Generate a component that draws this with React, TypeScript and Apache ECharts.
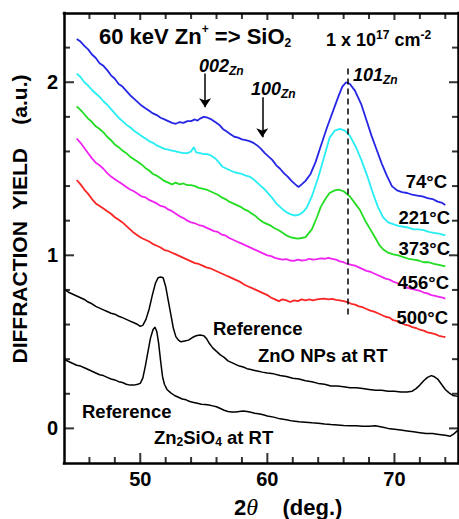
import React, { useEffect, useRef } from "react";
import * as echarts from "echarts";

const FONT = "'Liberation Sans', Arial, Helvetica, sans-serif";

const xMin = 44;
const xMax = 75;
const yMin = -0.2;
const yMax = 2.4;
const xMajorTicks = [50, 60, 70];
const xMinorTicks = [46, 48, 52, 54, 56, 58, 62, 64, 66, 68, 72, 74];
const yMajorTicks = [0, 1, 2];
const yMinorTicks = [0.2, 0.4, 0.6, 0.8, 1.2, 1.4, 1.6, 1.8, 2.2];

const temp74C: [number, number][] = [[45.0,2.25],[45.3,2.235],[45.6,2.21],[45.9,2.19],[46.2,2.16],[46.5,2.14],[46.8,2.11],[47.1,2.095],[47.4,2.07],[47.7,2.04],[48.0,2.02],[48.3,1.99],[48.6,1.975],[48.9,1.95],[49.2,1.925],[49.5,1.905],[49.8,1.885],[50.1,1.865],[50.4,1.85],[50.7,1.835],[51.0,1.82],[51.3,1.81],[51.6,1.795],[51.9,1.785],[52.2,1.775],[52.5,1.765],[52.8,1.76],[53.1,1.77],[53.4,1.765],[53.7,1.775],[54.0,1.775],[54.3,1.785],[54.5,1.778],[54.7,1.79],[55.0,1.8],[55.3,1.795],[55.6,1.785],[55.9,1.77],[56.2,1.755],[56.5,1.73],[56.8,1.715],[57.1,1.7],[57.4,1.685],[57.7,1.68],[58.0,1.67],[58.3,1.665],[58.6,1.66],[58.9,1.65],[59.2,1.635],[59.5,1.615],[59.8,1.59],[60.1,1.57],[60.4,1.55],[60.7,1.52],[61.0,1.5],[61.3,1.475],[61.6,1.455],[61.9,1.43],[62.2,1.41],[62.45,1.395],[62.7,1.41],[63.0,1.43],[63.4,1.47],[63.8,1.54],[64.2,1.63],[64.7,1.74],[65.2,1.84],[65.6,1.92],[65.9,1.975],[66.2,2.0],[66.5,1.99],[66.9,1.95],[67.4,1.87],[67.8,1.78],[68.2,1.69],[68.6,1.61],[69.0,1.53],[69.4,1.46],[69.8,1.4],[70.2,1.375],[70.6,1.365],[71.0,1.36],[71.4,1.35],[71.8,1.345],[72.2,1.34],[72.6,1.33],[73.0,1.325],[73.4,1.31],[73.7,1.305],[74.0,1.29]];

const temp221C: [number, number][] = [[45.0,2.05],[45.3,2.03],[45.6,2.0],[45.9,1.98],[46.2,1.955],[46.5,1.935],[46.8,1.915],[47.1,1.89],[47.4,1.87],[47.7,1.845],[48.0,1.82],[48.3,1.795],[48.6,1.775],[48.9,1.755],[49.2,1.74],[49.5,1.72],[49.8,1.705],[50.1,1.69],[50.4,1.675],[50.7,1.66],[51.0,1.65],[51.3,1.635],[51.6,1.625],[51.9,1.615],[52.2,1.61],[52.5,1.605],[52.8,1.6],[53.1,1.595],[53.4,1.59],[53.7,1.59],[54.0,1.6],[54.2,1.625],[54.4,1.595],[54.7,1.59],[55.0,1.585],[55.3,1.585],[55.6,1.575],[55.9,1.56],[56.2,1.535],[56.5,1.51],[56.8,1.5],[57.1,1.49],[57.4,1.48],[57.7,1.475],[58.0,1.47],[58.3,1.46],[58.6,1.455],[58.9,1.44],[59.2,1.42],[59.5,1.4],[59.8,1.38],[60.1,1.355],[60.4,1.33],[60.7,1.3],[61.0,1.28],[61.3,1.26],[61.6,1.245],[61.9,1.235],[62.2,1.23],[62.5,1.235],[62.8,1.25],[63.1,1.275],[63.5,1.34],[64.0,1.45],[64.4,1.55],[64.9,1.68],[65.3,1.72],[65.7,1.73],[66.1,1.72],[66.5,1.69],[67.0,1.62],[67.4,1.55],[67.9,1.45],[68.3,1.36],[68.7,1.28],[69.1,1.22],[69.5,1.19],[69.9,1.18],[70.3,1.17],[70.7,1.165],[71.1,1.16],[71.5,1.15],[71.9,1.15],[72.3,1.145],[72.7,1.135],[73.1,1.13],[73.5,1.125],[74.0,1.115]];

const temp373C: [number, number][] = [[45.0,1.86],[45.3,1.84],[45.6,1.815],[45.9,1.79],[46.2,1.77],[46.5,1.745],[46.8,1.73],[47.1,1.71],[47.4,1.685],[47.7,1.665],[48.0,1.64],[48.3,1.625],[48.6,1.605],[48.9,1.59],[49.2,1.57],[49.5,1.555],[49.8,1.54],[50.1,1.525],[50.4,1.505],[50.7,1.49],[51.0,1.47],[51.3,1.46],[51.6,1.445],[51.9,1.43],[52.2,1.42],[52.5,1.41],[52.8,1.42],[53.1,1.41],[53.4,1.415],[53.7,1.405],[54.0,1.405],[54.3,1.4],[54.6,1.39],[54.9,1.385],[55.2,1.38],[55.5,1.37],[55.8,1.36],[56.1,1.35],[56.4,1.335],[56.7,1.325],[57.0,1.31],[57.3,1.3],[57.6,1.29],[57.9,1.28],[58.2,1.265],[58.5,1.255],[58.8,1.24],[59.1,1.225],[59.4,1.205],[59.7,1.19],[60.0,1.18],[60.3,1.17],[60.6,1.155],[60.9,1.145],[61.2,1.13],[61.5,1.115],[61.8,1.105],[62.1,1.1],[62.4,1.097],[62.7,1.1],[63.0,1.105],[63.5,1.15],[63.9,1.22],[64.2,1.28],[64.6,1.33],[64.9,1.36],[65.3,1.375],[65.6,1.38],[66.0,1.37],[66.5,1.34],[67.0,1.29],[67.3,1.26],[67.7,1.2],[68.1,1.15],[68.5,1.1],[68.8,1.06],[69.1,1.035],[69.5,1.015],[69.9,1.005],[70.3,1.0],[70.7,0.99],[71.1,0.98],[71.5,0.975],[71.9,0.97],[72.3,0.96],[72.7,0.96],[73.1,0.95],[73.5,0.945],[74.0,0.936]];

const temp456C: [number, number][] = [[45.0,1.675],[45.3,1.65],[45.6,1.62],[45.9,1.59],[46.2,1.56],[46.5,1.535],[46.8,1.52],[47.1,1.5],[47.4,1.475],[47.7,1.455],[48.0,1.44],[48.3,1.425],[48.6,1.41],[48.9,1.395],[49.2,1.38],[49.5,1.37],[49.8,1.355],[50.1,1.34],[50.4,1.335],[50.7,1.32],[51.0,1.31],[51.3,1.3],[51.6,1.285],[51.9,1.28],[52.2,1.265],[52.5,1.255],[52.8,1.24],[53.1,1.225],[53.4,1.215],[53.7,1.2],[54.0,1.19],[54.3,1.185],[54.6,1.175],[54.9,1.17],[55.2,1.16],[55.5,1.15],[55.8,1.14],[56.1,1.135],[56.4,1.12],[56.7,1.115],[57.0,1.1],[57.3,1.09],[57.6,1.08],[57.9,1.07],[58.2,1.06],[58.5,1.05],[58.8,1.04],[59.1,1.03],[59.4,1.02],[59.7,1.01],[60.0,1.0],[60.3,0.995],[60.6,0.985],[60.9,0.98],[61.2,0.975],[61.5,0.978],[61.8,0.97],[62.1,0.968],[62.4,0.975],[62.7,0.97],[63.0,0.972],[63.3,0.98],[63.6,0.975],[63.9,0.978],[64.2,0.982],[64.5,0.98],[64.8,0.985],[65.1,0.98],[65.4,0.975],[65.7,0.965],[66.0,0.96],[66.3,0.95],[66.6,0.945],[66.9,0.94],[67.2,0.93],[67.5,0.92],[67.8,0.91],[68.1,0.905],[68.4,0.895],[68.7,0.885],[69.0,0.875],[69.3,0.865],[69.6,0.86],[69.9,0.848],[70.2,0.84],[70.5,0.83],[70.8,0.82],[71.1,0.81],[71.4,0.805],[71.7,0.8],[72.0,0.795],[72.3,0.785],[72.6,0.78],[72.9,0.77],[73.2,0.765],[73.5,0.76],[73.8,0.755],[74.0,0.75]];

const temp500C: [number, number][] = [[45.0,1.435],[45.3,1.41],[45.6,1.38],[45.9,1.355],[46.2,1.325],[46.5,1.3],[46.8,1.285],[47.1,1.27],[47.4,1.255],[47.7,1.24],[48.0,1.22],[48.3,1.205],[48.6,1.19],[48.9,1.17],[49.2,1.15],[49.5,1.13],[49.8,1.115],[50.1,1.1],[50.4,1.09],[50.7,1.08],[51.0,1.065],[51.3,1.055],[51.6,1.045],[51.9,1.03],[52.2,1.025],[52.5,1.015],[52.8,1.005],[53.1,0.995],[53.4,0.985],[53.7,0.975],[54.0,0.965],[54.3,0.955],[54.6,0.95],[54.9,0.94],[55.2,0.93],[55.5,0.925],[55.8,0.915],[56.1,0.905],[56.4,0.895],[56.7,0.885],[57.0,0.875],[57.3,0.865],[57.6,0.855],[57.9,0.845],[58.2,0.83],[58.5,0.82],[58.8,0.81],[59.1,0.8],[59.4,0.79],[59.7,0.78],[60.0,0.77],[60.3,0.755],[60.6,0.745],[60.9,0.735],[61.2,0.745],[61.5,0.74],[61.8,0.73],[62.1,0.74],[62.4,0.735],[62.7,0.745],[63.0,0.74],[63.3,0.745],[63.6,0.74],[63.9,0.745],[64.2,0.748],[64.5,0.75],[64.8,0.745],[65.1,0.748],[65.4,0.742],[65.7,0.74],[66.0,0.735],[66.3,0.73],[66.6,0.72],[66.9,0.715],[67.2,0.705],[67.5,0.7],[67.8,0.69],[68.1,0.68],[68.4,0.675],[68.7,0.665],[69.0,0.655],[69.3,0.645],[69.6,0.64],[69.9,0.625],[70.2,0.62],[70.5,0.61],[70.8,0.6],[71.1,0.595],[71.4,0.585],[71.7,0.58],[72.0,0.57],[72.3,0.565],[72.6,0.555],[72.9,0.55],[73.2,0.545],[73.5,0.535],[73.8,0.53],[74.0,0.528]];

const refZnO: [number, number][] = [[44.1,0.8],[44.4,0.785],[44.7,0.775],[45.0,0.765],[45.3,0.755],[45.6,0.745],[45.9,0.73],[46.2,0.72],[46.5,0.705],[46.8,0.695],[47.1,0.685],[47.4,0.675],[47.7,0.665],[48.0,0.66],[48.3,0.648],[48.6,0.64],[48.9,0.63],[49.2,0.62],[49.5,0.61],[49.8,0.6],[50.0,0.59],[50.2,0.595],[50.45,0.63],[50.7,0.69],[50.95,0.77],[51.2,0.84],[51.4,0.87],[51.6,0.875],[51.8,0.87],[52.0,0.82],[52.2,0.74],[52.4,0.66],[52.6,0.58],[52.8,0.53],[53.0,0.51],[53.2,0.5],[53.5,0.505],[53.8,0.51],[54.1,0.525],[54.4,0.535],[54.7,0.54],[55.0,0.535],[55.2,0.52],[55.4,0.495],[55.7,0.465],[56.0,0.445],[56.3,0.425],[56.6,0.41],[56.9,0.39],[57.2,0.38],[57.5,0.37],[57.8,0.36],[58.1,0.355],[58.4,0.345],[58.7,0.34],[59.0,0.335],[59.3,0.33],[59.6,0.325],[60.0,0.32],[60.5,0.315],[61.0,0.305],[61.5,0.3],[62.0,0.29],[62.5,0.285],[63.0,0.275],[63.5,0.27],[64.0,0.26],[64.5,0.255],[65.0,0.245],[65.5,0.245],[66.0,0.24],[66.5,0.235],[67.0,0.235],[67.5,0.23],[68.0,0.225],[68.5,0.22],[69.0,0.22],[69.5,0.215],[70.0,0.215],[70.5,0.21],[71.0,0.21],[71.4,0.215],[71.7,0.23],[72.0,0.25],[72.3,0.275],[72.6,0.295],[72.9,0.305],[73.1,0.3],[73.4,0.285],[73.7,0.255],[74.0,0.225],[74.3,0.205],[74.6,0.19],[75.0,0.185]];

const refZn2SiO4: [number, number][] = [[44.1,0.395],[44.4,0.385],[44.7,0.375],[45.0,0.365],[45.3,0.36],[45.6,0.35],[45.9,0.34],[46.2,0.33],[46.5,0.32],[46.8,0.31],[47.1,0.305],[47.4,0.295],[47.7,0.285],[48.0,0.28],[48.3,0.27],[48.6,0.265],[48.9,0.255],[49.2,0.25],[49.5,0.25],[49.8,0.255],[50.0,0.26],[50.2,0.29],[50.4,0.36],[50.6,0.44],[50.8,0.52],[51.0,0.57],[51.15,0.585],[51.3,0.56],[51.45,0.49],[51.6,0.39],[51.75,0.3],[51.9,0.255],[52.1,0.225],[52.4,0.205],[52.7,0.19],[53.0,0.18],[53.3,0.17],[53.6,0.165],[53.9,0.155],[54.2,0.15],[54.5,0.145],[54.8,0.14],[55.1,0.138],[55.4,0.135],[55.7,0.13],[56.0,0.125],[56.3,0.115],[56.6,0.105],[56.9,0.098],[57.2,0.095],[57.5,0.095],[57.8,0.098],[58.1,0.1],[58.4,0.098],[58.7,0.093],[59.0,0.088],[59.3,0.085],[59.6,0.08],[60.0,0.072],[60.5,0.065],[61.0,0.055],[61.5,0.05],[62.0,0.042],[62.5,0.038],[63.0,0.035],[63.5,0.032],[64.0,0.03],[64.5,0.025],[65.0,0.022],[65.5,0.02],[66.0,0.016],[66.5,0.015],[67.0,0.015],[67.5,0.012],[68.0,0.012],[68.5,0.015],[69.0,0.008],[69.5,0.0],[70.0,-0.005],[70.5,-0.01],[71.0,-0.015],[71.5,-0.02],[72.0,-0.025],[72.5,-0.03],[73.0,-0.03],[73.5,-0.035],[74.0,-0.04],[74.4,-0.045],[74.7,-0.03],[75.0,-0.01]];

const peak101X = 66.36;
const peak101YRange = [2.08, 0.653];
const arrow002 = [55.1, 2.05, 1.855];
const arrow100 = [59.6, 1.913, 1.682];

const colors = {
  c74: "#2626e6",
  c221: "#26eef4",
  c373: "#22dd22",
  c456: "#f024f0",
  c500: "#fa2626",
  ref: "#000000",
};

const tempLabels = ["74°C", "221°C", "373°C", "456°C", "500°C"];

const GRID = { left: 64, top: 13, right: 1, bottom: 56 };

// tick marks: small rect symbols placed on the frame through the axes' scales
function tickSeries(points: [number, number][], size: [number, number], offset: [number, number]) {
  return {
    type: "scatter",
    data: points,
    symbol: "rect",
    symbolSize: size,
    symbolOffset: offset,
    itemStyle: { color: "#000" },
    silent: true,
    clip: false,
    z: 6,
  };
}

function line(name: string, data: [number, number][], color: string, extra: any = {}) {
  return {
    name,
    type: "line",
    data,
    showSymbol: false,
    symbol: "none",
    silent: true,
    lineStyle: { color, width: 1.8 },
    itemStyle: { color },
    z: 3,
    ...extra,
  };
}

export default function App() {
  const ref = useRef<HTMLDivElement>(null);
  useEffect(() => {
    document.body.style.margin = "0";
    const chart = echarts.init(ref.current!, null, { renderer: "svg" });
    const frame = { show: true, onZero: false, lineStyle: { color: "#000", width: 2.5, cap: "square" } };
    const label = (ticks: number[]) => ({ show: true, customValues: ticks, color: "#000", fontSize: 20, fontWeight: "bold", fontFamily: FONT, margin: 6 });

    const txt = (x: number, y: number, text: string, extra: any = {}) => ({
      type: "text",
      x,
      y,
      silent: true,
      z: 10,
      style: {
        text,
        fill: "#000",
        fontSize: 18,
        fontWeight: "bold",
        fontFamily: FONT,
        textAlign: "left",
        textVerticalAlign: "middle",
        ...extra,
      },
    });

    const mkRich = (size: number) => ({
      a: { fontSize: size, fontWeight: "bold", fontFamily: FONT, fill: "#000", lineHeight: size + 4 },
      ai: { fontSize: size, fontWeight: "bold", fontStyle: "italic", fontFamily: FONT, fill: "#000", lineHeight: size + 4 },
      sup: { fontSize: 12, fontWeight: "bold", fontFamily: FONT, fill: "#000", verticalAlign: "top", lineHeight: 12 },
      sub: { fontSize: 12, fontWeight: "bold", fontFamily: FONT, fill: "#000", verticalAlign: "bottom", lineHeight: 12 },
      subi: { fontSize: 12, fontWeight: "bold", fontStyle: "italic", fontFamily: FONT, fill: "#000", verticalAlign: "bottom", lineHeight: 12 },
      th: { fontSize: size + 2, fontStyle: "italic", fontFamily: "'Liberation Serif', 'DejaVu Serif', serif", fill: "#000", lineHeight: size + 4 },
    });

    chart.setOption({
      animation: false,
      backgroundColor: "#fff",
      grid: { ...GRID, show: false },
      xAxis: [
        { type: "value", position: "bottom", min: xMin, max: xMax, axisLine: frame, axisTick: { show: false }, splitLine: { show: false }, axisLabel: label(xMajorTicks) },
        { type: "value", position: "top", min: xMin, max: xMax, axisLine: frame, axisTick: { show: false }, splitLine: { show: false }, axisLabel: { show: false } },
      ],
      yAxis: [
        { type: "value", position: "left", min: yMin, max: yMax, axisLine: frame, axisTick: { show: false }, splitLine: { show: false }, axisLabel: label(yMajorTicks) },
        { type: "value", position: "right", min: yMin, max: yMax, axisLine: frame, axisTick: { show: false }, splitLine: { show: false }, axisLabel: { show: false } },
      ],
      series: [
        tickSeries(xMajorTicks.map((v) => [v, yMin] as [number, number]), [2, 10], [0, -5]),
        tickSeries(xMinorTicks.map((v) => [v, yMin] as [number, number]), [2, 6], [0, -3]),
        tickSeries(xMajorTicks.map((v) => [v, yMax] as [number, number]), [2, 7], [0, 3.5]),
        tickSeries(xMinorTicks.map((v) => [v, yMax] as [number, number]), [2, 6], [0, 3]),
        tickSeries(yMajorTicks.map((v) => [xMin, v] as [number, number]), [10, 2], [5, 0]),
        tickSeries(yMinorTicks.map((v) => [xMin, v] as [number, number]), [6, 2], [3, 0]),
        tickSeries(yMajorTicks.map((v) => [xMax, v] as [number, number]), [9, 2], [-4.5, 0]),
        tickSeries(yMinorTicks.map((v) => [xMax, v] as [number, number]), [6, 2], [-3, 0]),
        line("74°C", temp74C, colors.c74, {
          markLine: {
            silent: true,
            symbol: ["none", "none"],
            label: { show: false },
            lineStyle: { color: "#000", type: [6, 4], width: 1.5 },
            data: [[{ coord: [peak101X, peak101YRange[0]] }, { coord: [peak101X, peak101YRange[1]] }]],
          },
        }),
        line("221°C", temp221C, colors.c221, {
          markLine: {
            silent: true,
            symbol: ["none", "arrow"],
            symbolSize: 9,
            label: { show: false },
            lineStyle: { color: "#000", type: "solid", width: 1.5 },
            data: [
              [{ coord: [arrow002[0], arrow002[1]] }, { coord: [arrow002[0], arrow002[2]] }],
              [{ coord: [arrow100[0], arrow100[1]] }, { coord: [arrow100[0], arrow100[2]] }],
            ],
          },
        }),
        line("373°C", temp373C, colors.c373),
        line("456°C", temp456C, colors.c456),
        line("500°C", temp500C, colors.c500),
        line("ZnO NPs", refZnO, colors.ref, { lineStyle: { color: colors.ref, width: 1.5 } }),
        line("Zn2SiO4", refZn2SiO4, colors.ref, { lineStyle: { color: colors.ref, width: 1.5 } }),
      ],
      graphic: [
        {
          type: "text",
          x: 19,
          y: 219,
          rotation: Math.PI / 2,
          silent: true,
          style: {
            text: "DIFFRACTION  YIELD    (a.u.)",
            fill: "#000",
            fontSize: 21,
            fontWeight: "bold",
            fontFamily: FONT,
            textAlign: "center",
            textVerticalAlign: "middle",
          },
        },
        txt(99, 36, "{a|60 keV Zn}{sup|+}{a| => SiO}{sub|2}", { rich: mkRich(22), fontSize: 22 }),
        txt(326, 40, "{a|1 x 10}{sup|17}{a| cm}{sup|-2}", { rich: mkRich(18) }),
        txt(199, 66, "{ai|002}{subi|Zn}", { rich: mkRich(18) }),
        txt(251, 89, "{ai|100}{subi|Zn}", { rich: mkRich(18) }),
        txt(353, 75, "{ai|101}{subi|Zn}", { rich: mkRich(18) }),
        txt(447, 181, tempLabels[0], { textAlign: "right", fontSize: 18.5 }),
        txt(450, 217, tempLabels[1], { textAlign: "right", fontSize: 18.5 }),
        txt(450, 248, tempLabels[2], { textAlign: "right", fontSize: 18.5 }),
        txt(449, 282, tempLabels[3], { textAlign: "right", fontSize: 18.5 }),
        txt(448, 317, tempLabels[4], { textAlign: "right", fontSize: 18.5 }),
        txt(213, 328, "Reference", { fontSize: 18.5 }),
        txt(258, 355, "ZnO NPs at RT", { fontSize: 18.5 }),
        txt(82, 411, "Reference", { fontSize: 18.5 }),
        txt(154, 437, "{a|Zn}{sub|2}{a|SiO}{sub|4}{a| at RT}", { rich: mkRich(18.5) }),
        txt(234, 507, "{a|2}{th|θ}{a|    (deg.)}", { rich: mkRich(22) }),
      ],
    });
    return () => chart.dispose();
  }, []);
  return <div ref={ref} style={{ width: 459, height: 519, position: "fixed", left: 0, top: 0, background: "#fff" }} />;
}
